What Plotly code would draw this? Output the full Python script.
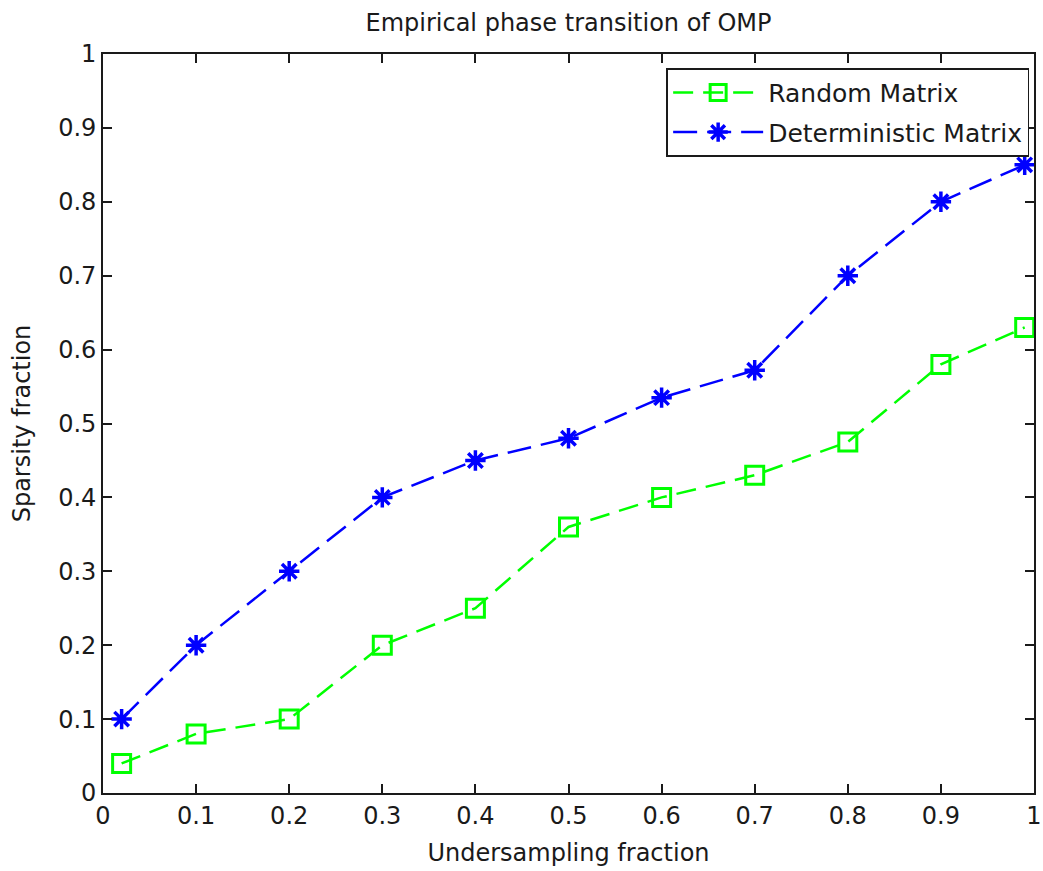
import plotly.graph_objects as go

x_vals = [0.02, 0.1, 0.2, 0.3, 0.4, 0.5, 0.6, 0.7, 0.8, 0.9, 0.99]
random_matrix = [0.04, 0.08, 0.10, 0.20, 0.25, 0.36, 0.40, 0.43, 0.475, 0.58, 0.63]
deterministic_matrix = [0.10, 0.20, 0.30, 0.40, 0.45, 0.48, 0.535, 0.572, 0.70, 0.80, 0.85]
tick_vals = [0, 0.1, 0.2, 0.3, 0.4, 0.5, 0.6, 0.7, 0.8, 0.9, 1]
tick_text = ["0", "0.1", "0.2", "0.3", "0.4", "0.5", "0.6", "0.7", "0.8", "0.9", "1"]

FONT = "DejaVu Sans, Verdana, sans-serif"
TXT = "#1a1a1a"

fig = go.Figure()
fig.add_trace(go.Scatter(
    x=x_vals, y=random_matrix, name="Random Matrix", mode="lines+markers",
    legendgroup="r",
    line=dict(color="#00ff00", width=2.5, dash="20px,10px"),
    marker=dict(symbol="square-open", size=18, color="#00ff00", line=dict(width=3, color="#00ff00")),
))
fig.add_trace(go.Scatter(
    x=x_vals, y=deterministic_matrix, name="Deterministic Matrix", mode="lines+markers",
    legendgroup="d",
    line=dict(color="#0000ff", width=2.5, dash="24px,10px"),
    marker=dict(symbol="asterisk-open", size=17, color="#0000ff", line=dict(width=3.5, color="#0000ff")),
))

axis_common = dict(
    range=[0, 1], tickvals=tick_vals, ticktext=tick_text,
    ticks="inside", ticklen=9, tickwidth=1.8, tickcolor=TXT,
    showline=True, linecolor=TXT, linewidth=1.8, mirror="ticks",
    showgrid=False, zeroline=False, automargin=False,
    tickfont=dict(size=24, color=TXT, family=FONT),
)

fig.update_layout(
    width=1043, height=871,
    margin=dict(l=103, r=9, t=54, b=78),
    paper_bgcolor="white", plot_bgcolor="white",
    font=dict(family=FONT, color=TXT),
    title=dict(text="Empirical phase transition of OMP", xref="paper", x=0.5, xanchor="center",
               yref="container", y=1 - 23 / 871, yanchor="middle",
               font=dict(size=24, color=TXT, family=FONT)),
    xaxis=dict(**axis_common, ticklabeloverflow="allow",
               title=dict(text="Undersampling fraction", font=dict(size=24, family=FONT), standoff=15)),
    yaxis=dict(**axis_common,
               title=dict(text="Sparsity fraction", font=dict(size=24, family=FONT), standoff=21)),
    legend=dict(x=0.995, y=0.981, xanchor="right", yanchor="top",
                bgcolor="white", bordercolor=TXT, borderwidth=1.8,
                font=dict(size=25, color=TXT, family=FONT), itemwidth=90,
                tracegroupgap=4),
    showlegend=True,
)

fig.write_html("out.html")
